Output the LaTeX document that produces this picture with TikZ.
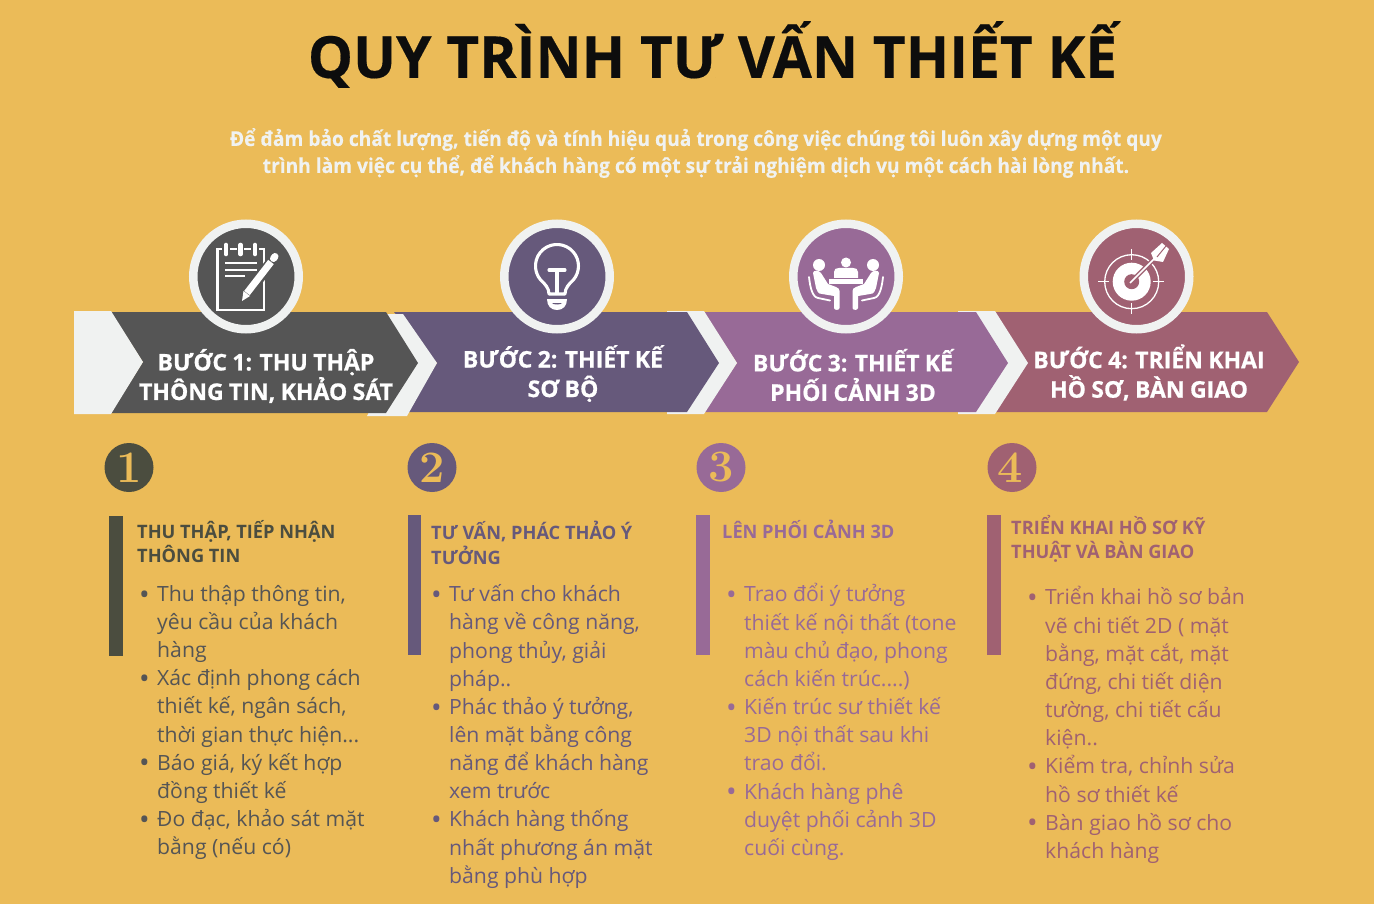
\documentclass[tikz,border=0pt]{standalone}
\usepackage{fontspec}
\newfontfamily\titlefont[FakeStretch=0.98,BoldFeatures={FakeBold=0.3}]{Open Sans}
\newfontfamily\introfont[FakeStretch=0.935,BoldFeatures={FakeBold=0.2}]{Open Sans}
\newfontfamily\headfont[FakeStretch=0.985]{Open Sans}
\newfontfamily\bodyfont[FakeStretch=1.01]{Open Sans}
\newfontfamily\bannerfont[WordSpace=0.9,BoldFeatures={FakeBold=0.7}]{Open Sans}
\definecolor{bgyellow}{HTML}{EBBB58}
\definecolor{stepgrey}{HTML}{555555}
\definecolor{steppurple}{HTML}{66597B}
\definecolor{stepmauve}{HTML}{986A97}
\definecolor{steprose}{HTML}{A06172}
\definecolor{offwhite}{HTML}{F0F2F1}
\definecolor{headgrey}{HTML}{4B4D3F}
\newcommand{\itm}{\llap{\fontsize{28}{0}\selectfont\raisebox{-2.8pt}{\textbullet}\hspace{7.5pt}}}
\tikzset{
  ring/.style={circle, draw=offwhite, line width=8.5pt, minimum size=105.5pt, inner sep=0pt, outer sep=0pt},
  numdisc/.style={circle, minimum size=49pt, inner sep=0pt, text=bgyellow, font=\fontsize{45}{45}\selectfont\bfseries},
  bannertext/.style={align=center, text=white, inner sep=0pt, font=\bannerfont\fontsize{23}{29.5}\selectfont\bfseries},
  headtext/.style={anchor=north west, align=left, inner sep=0pt, font=\headfont\fontsize{18.5}{24.5}\selectfont\bfseries},
  listtext/.style={anchor=north west, align=left, inner sep=0pt, font=\bodyfont\fontsize{21}{28.15}\selectfont},
  iconline/.style={draw=white, line width=3.1pt, line cap=round, line join=round}
}
\begin{document}
\begin{tikzpicture}[x=1pt,y=-1pt]
\fill[bgyellow] (0,0) rectangle (1374,904);
\useasboundingbox (0,0) rectangle (1374,904);

% heading
\node[inner sep=0pt, text=black!95, font=\titlefont\fontsize{58}{58}\selectfont\bfseries] (title) at (712.5,54.5) {QUY TRÌNH TƯ VẤN THIẾT KẾ};
\node[align=center, inner sep=0pt, text=offwhite, font=\introfont\fontsize{20.5}{27}\selectfont\bfseries] (intro) at (696,153) {Để đảm bảo chất lượng, tiến độ và tính hiệu quả trong công việc chúng tôi luôn xây dựng một quy\\trình làm việc cụ thể, để khách hàng có một sự trải nghiệm dịch vụ một cách hài lòng nhất.};

% banner, back to front
\fill[steprose] (995,312) -- (1267,312) -- (1299,362) -- (1267,412) -- (995,412) -- cycle;
\fill[offwhite] (958,311) -- (995,311) -- (1028,363) -- (995,414) -- (958,414) -- cycle;
\fill[stepmauve] (704,312) -- (976,312) -- (1008,363) -- (976,412) -- (704,412) -- (737,363) -- cycle;
\fill[offwhite] (667,311) -- (704,311) -- (737,363) -- (704,414) -- (667,414) -- cycle;
\fill[steppurple] (394,312) -- (687,312) -- (719,363) -- (687,412) -- (407,412) -- (437,363) -- cycle;
\fill[offwhite] (386,314) -- (403,314) -- (437,363) -- (407,416) -- (367,416) -- (386,380) -- cycle;
\fill[stepgrey] (111,312) -- (386,312) -- (418,363) -- (386,413) -- (111,413) -- (143,362) -- cycle;
\fill[offwhite] (74,311) -- (111,311) -- (143,362) -- (111,414) -- (74,414) -- cycle;

\node[bannertext] (ban1) at (266,376) {BƯỚC 1: THU THẬP\\THÔNG TIN, KHẢO SÁT};
\node[bannertext] (ban2) at (563,373.5) {BƯỚC 2: THIẾT KẾ\\SƠ BỘ};
\node[bannertext] (ban3) at (853,375) {BƯỚC 3: THIẾT KẾ\\PHỐI CẢNH 3D};
\node[bannertext] (ban4) at (1149,372.5) {BƯỚC 4: TRIỂN KHAI\\HỒ SƠ, BÀN GIAO};

% icon rings
\node[ring, fill=stepgrey] (icon1) at (246,276.5) {};
\node[ring, fill=steppurple] (icon2) at (557,276.5) {};
\node[ring, fill=stepmauve] (icon3) at (846,276.5) {};
\node[ring, fill=steprose] (icon4) at (1136.5,276.5) {};

% notepad
\draw[draw=white, line width=2.8pt] (217.5,249) rectangle (264,310);
\foreach \xx in {226,240.5,255} {
  \draw[stepgrey, line width=7.5pt, line cap=round] (\xx,245) -- (\xx,254);
  \draw[white, line width=4.6pt, line cap=round] (\xx,245) -- (\xx,254);
}
\draw[white, line width=1.6pt] (225,263) -- (257,263) (225,270) -- (257,270) (225,276) -- (245,276);
\draw[stepgrey, line width=11pt] (247,294) -- (273,260);
\draw[white, line width=7pt] (247,293) -- (271,262);
\draw[white, line width=7pt, line cap=round] (273.5,258.5) -- (275,256.5);
\fill[white] (242,301) -- (243.5,291) -- (250,296) -- cycle;

% bulb
\draw[iconline] (549,294) .. controls (549,288) and (545,284) .. (540.5,279.8) arc[start angle=220, end angle=-40, radius=21.5pt] .. controls (569,284) and (565,288) .. (565,294) -- cycle;
\draw[iconline] (549,270) -- (565,270) (557,270) -- (557,293);
\fill[white] (547,299) -- (567,299) .. controls (567,306) and (563,310) .. (557,310) .. controls (551,310) and (547,306) .. (547,299) -- cycle;
\fill[steppurple] (552,303) -- (562,303) .. controls (561,305) and (553,305) .. (552,303) -- cycle;

% meeting table
\fill[white] (846,262.5) circle[radius=5pt];
\fill[white] (834,278) -- (834,272) .. controls (834,269) and (836,268) .. (839,268) -- (853,268) .. controls (856,268) and (858,269) .. (858,272) -- (858,278) -- cycle;
\fill[white] (829,279.5) -- (863,279.5) -- (863,284) -- (829,284) -- cycle;
\foreach \side in {1,-1} {
  \begin{scope}[xshift=846pt, xscale=\side]
    \fill[white] (-27,265) circle[radius=6pt];
    \fill[white] (-33,273) .. controls (-33,270) and (-27,270) .. (-25,273) -- (-18,284) -- (-10,287) .. controls (-7.5,288) and (-6.5,289) .. (-6.5,291) -- (-6.5,308) .. controls (-6.5,310.5) and (-12,310.5) .. (-12,308) -- (-12,296) -- (-24,294) .. controls (-28,294) and (-29,291) .. (-30,288) -- cycle;
    \draw[white, line width=1.8pt, line cap=round] (-37,277) .. controls (-36,286) and (-34,297) .. (-28,298) -- (-16,300.5);
  \end{scope}
}

% target
\draw[white, line width=1.3pt] (1131.7,281.7) circle[radius=27pt];
\draw[white, line width=1.5pt] (1131.7,249) -- (1131.7,260) (1131.7,303) -- (1131.7,314) (1098,281.7) -- (1109,281.7) (1153,281.7) -- (1164,281.7);
\fill[white] (1131.7,281.7) circle[radius=19pt];
\fill[steprose] (1131.7,281.7) circle[radius=7.5pt];
\draw[steprose, line width=4.5pt] (1131,282) -- (1154,259);
\draw[white, line width=1.6pt] (1130,283) -- (1158,255);
\fill[white] (1162,243) -- (1169,249) -- (1163,262) -- (1154,260.5) -- (1151,253) -- cycle;
\draw[steprose, line width=1pt] (1166,246) -- (1157,257);

% numbers
\node[numdisc, fill=headgrey] (num1) at (129,467.5) {1};
\node[numdisc, fill=steppurple] (num2) at (432,467.5) {2};
\node[numdisc, fill=stepmauve] (num3) at (721,467.5) {3};
\node[numdisc, fill=steprose] (num4) at (1012,467.5) {\hspace{-3pt}4};

% side bars
\fill[headgrey] (109,516) rectangle (122.5,656);
\fill[steppurple] (407.5,515) rectangle (421,655);
\fill[stepmauve] (696,515) rectangle (710,655);
\fill[steprose] (987,515) rectangle (1001,655);

% column heads
\node[headtext, text=headgrey] (head1) at (137,520) {THU THẬP, TIẾP NHẬN\\THÔNG TIN};
\node[headtext, text=steppurple] (head2) at (431,521) {TƯ VẤN, PHÁC THẢO Ý\\TƯỞNG};
\node[headtext, text=stepmauve] (head3) at (722,520) {LÊN PHỐI CẢNH 3D};
\node[headtext, text=steprose] (head4) at (1011,515) {TRIỂN KHAI HỒ SƠ KỸ\\THUẬT VÀ BÀN GIAO};

% column lists
\node[listtext, text=stepgrey] (list1) at (157,585) {\itm Thu thập thông tin,\\yêu cầu của khách\\hàng\\\itm Xác định phong cách\\thiết kế, ngân sách,\\thời gian thực hiện...\\\itm Báo giá, ký kết hợp\\đồng thiết kế\\\itm Đo đạc, khảo sát mặt\\bằng (nếu có)};
\node[listtext, text=steppurple] (list2) at (449,584.5) {\itm Tư vấn cho khách\\hàng về công năng,\\phong thủy, giải\\pháp..\\\itm Phác thảo ý tưởng,\\lên mặt bằng công\\năng để khách hàng\\xem trước\\\itm Khách hàng thống\\nhất phương án mặt\\bằng phù hợp};
\node[listtext, text=stepmauve] (list3) at (744,583.5) {\itm Trao đổi ý tưởng\\thiết kế nội thất (tone\\màu chủ đạo, phong\\cách kiến trúc....)\\\itm Kiến trúc sư thiết kế\\3D nội thất sau khi\\trao đổi.\\\itm Khách hàng phê\\duyệt phối cảnh 3D\\cuối cùng.};
\node[listtext, text=steprose] (list4) at (1045,586.5) {\itm Triển khai hồ sơ bản\\vẽ chi tiết 2D ( mặt\\bằng, mặt cắt, mặt\\đứng, chi tiết diện\\tường, chi tiết cấu\\kiện..\\\itm Kiểm tra, chỉnh sửa\\hồ sơ thiết kế\\\itm Bàn giao hồ sơ cho\\khách hàng};
\end{tikzpicture}
\end{document}
